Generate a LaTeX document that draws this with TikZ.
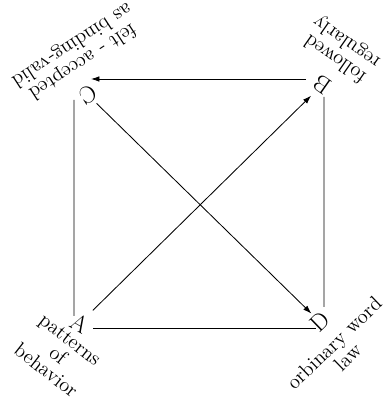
\documentclass[tikz,border=0pt]{standalone}
\usepackage{tikz}
\usetikzlibrary{arrows.meta, positioning, calc}
\tikzset{
    corner/.style={inner sep=0pt, font=\fontsize{17}{17}\selectfont},
    corner_text/.style={align=center, inner sep=0pt, font=\fontsize{14.5}{14}\selectfont},
    side/.style={semithick},
    arrow/.style={-{Latex[length=6pt, width=4pt]}, semithick}
}
\begin{document}
\begin{tikzpicture}

    \useasboundingbox (0,0) rectangle (9.65,10);

    % Corners
    \node[corner, rotate=-30] (A) at (2.0,1.925) {A};
    \node[corner, rotate=145] (B) at (8.05,7.875) {B};
    \node[corner, rotate=213] (C) at (2.2,7.625) {C};
    \node[corner, rotate=44] (D) at (8.0,1.95) {D};

    % Labels
    \node[corner_text, rotate=-38] (lblA) at (1.45,1.12) {patterns\\of\\behavior};
    \node[corner_text, rotate=145] (lblB) at (8.525,8.75) {followed\\regularly};
    \node[corner_text, rotate=213] (lblC) at (1.925,8.675) {felt - accepted\\as binding-valid};
    \node[corner_text, rotate=44] (lblD) at (8.52,1.25) {orbinary word\\law};

    % Sides
    \draw[side] ([xshift=-0.35cm, yshift=-0.125cm]C.center) -- ([xshift=-0.15cm, yshift=0.175cm]A.center);
    \draw[arrow] ([xshift=-0.4cm, yshift=0.15cm]B.center) -- ([xshift=0.075cm, yshift=0.4cm]C.center);
    \draw[side] ([xshift=0.05cm, yshift=-0.3cm]B.center) -- ([xshift=0.1cm, yshift=0.375cm]D.center);
    \draw[side] ([xshift=0.325cm, yshift=-0.125cm]A.center) -- ([xshift=-0.1cm, yshift=-0.15cm]D.center);

    % Diagonals
    \draw[arrow, shorten <=0.45cm, shorten >=0.38cm] (A.center) -- (B.center);
    \draw[arrow, shorten <=0.3cm, shorten >=0.3cm] (C.center) -- (D.center);

\end{tikzpicture}
\end{document}
